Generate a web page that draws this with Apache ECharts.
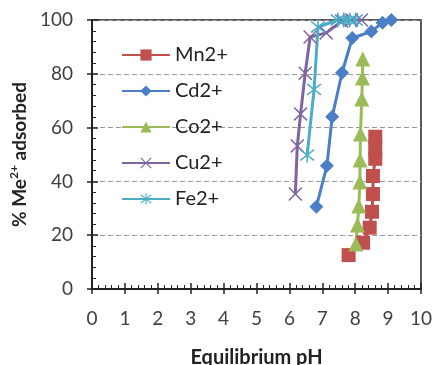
<!DOCTYPE html>
<html>
<head>
<meta charset="utf-8">
<script src="https://cdn.jsdelivr.net/npm/echarts@6/dist/echarts.min.js"></script>
<style>
  html, body { margin: 0; padding: 0; background: #fff; }
  #chart { width: 435px; height: 365px; }
</style>
</head>
<body>
<div id="chart"></div>
<script>
var seriesNames = ['Mn2+', 'Cd2+', 'Co2+', 'Cu2+', 'Fe2+'];

var mnPH  = [7.80, 8.24, 8.44, 8.51, 8.54, 8.54, 8.61, 8.61, 8.61];
var mnAds = [12.6, 17.2, 22.8, 28.7, 35.3, 42.0, 48.4, 52.4, 56.6];

var cdPH  = [6.82, 7.14, 7.30, 7.60, 7.91, 8.49, 8.83, 9.10];
var cdAds = [30.6, 45.8, 64.0, 80.4, 93.3, 95.7, 99.0, 100];

var coPH  = [8.02, 8.07, 8.11, 8.14, 8.15, 8.16, 8.20, 8.22, 8.23];
var coAds = [16.7, 23.8, 30.9, 39.8, 48.0, 57.6, 70.6, 78.4, 85.5];

var cuPH  = [6.18, 6.24, 6.34, 6.48, 6.63, 7.12, 7.59, 7.89, 8.19];
var cuAds = [35.3, 53.2, 65.1, 80.2, 93.7, 95.2, 99.6, 100, 100];

var fePH  = [6.54, 6.75, 6.87, 7.47, 7.65, 7.83, 8.02];
var feAds = [49.8, 74.2, 97.4, 100, 100, 100, 100];

var colors = ['#C0504D', '#4A7EC6', '#9BBB59', '#8064A2', '#4BACC6'];

// X and asterisk markers as filled outlines
var crossPath = 'path://M1.5,0L10,8.5L18.5,0L20,1.5L11.5,10L20,18.5L18.5,20L10,11.5L1.5,20L0,18.5L8.5,10L0,1.5Z';
var starPath = 'path://M9,0H11V20H9Z M1.5,2L10,8.8L18.5,2L20,3.5L11.5,10L20,16.5L18.5,18L10,11.2L1.5,18L0,16.5L8.5,10L0,3.5Z';
var symbols = ['rect', 'diamond', 'triangle', crossPath, starPath];
var symbolSizes = [14, 14, 15, 14, 15];

function zip(xs, ys) {
  var out = [];
  for (var i = 0; i < xs.length; i++) out.push([xs[i], ys[i]]);
  return out;
}

var allData = [zip(mnPH, mnAds), zip(cdPH, cdAds), zip(coPH, coAds), zip(cuPH, cuAds), zip(fePH, feAds)];

var chart = echarts.init(document.getElementById('chart'));

var textColor = '#404040';
var axisColor = '#222';
var fontFam = 'Lato, "Open Sans", sans-serif';

var series = seriesNames.map(function (name, i) {
  return {
    name: name,
    type: 'line',
    xAxisIndex: 0,
    yAxisIndex: 0,
    data: allData[i],
    symbol: symbols[i],
    symbolSize: symbolSizes[i],
    showAllSymbol: true,
    lineStyle: { color: colors[i], width: 3 },
    itemStyle: { color: colors[i], borderWidth: 0 },
    emphasis: { disabled: true }
  };
});

var option = {
  animation: false,
  textStyle: { fontFamily: fontFam },
  grid: {
    left: 92,
    right: 14,
    top: 20,
    bottom: 76,
    outerBoundsMode: 'none',
    containLabel: false,
    show: true,
    borderColor: axisColor,
    borderWidth: 1.5,
    backgroundColor: 'transparent'
  },
  legend: {
    orient: 'vertical',
    left: 116,
    top: 40,
    itemWidth: 48,
    itemHeight: 14,
    itemGap: 16,
    textStyle: { fontSize: 20, color: '#222', fontFamily: fontFam },
    data: seriesNames
  },
  xAxis: [{
    type: 'value',
    min: 0,
    max: 10,
    interval: 1,
    name: 'Equilibrium pH',
    nameLocation: 'middle',
    nameGap: 59,
    nameTextStyle: { fontSize: 20, fontWeight: 'bold', color: '#222' },
    axisLine: { show: true, onZero: false, lineStyle: { color: axisColor, width: 2 } },
    axisTick: { show: true, inside: true, length: 6, lineStyle: { color: axisColor, width: 1.5 } },
    minorTick: { show: true, splitNumber: 5, length: 4, lineStyle: { color: axisColor, width: 1 } },
    axisLabel: { fontSize: 19, color: textColor, margin: 20 },
    splitLine: { show: false }
  }, {
    // outward half of the major ticks
    type: 'value',
    position: 'bottom',
    min: 0,
    max: 10,
    interval: 1,
    axisLine: { show: false },
    axisTick: { show: true, inside: false, length: 5, lineStyle: { color: axisColor, width: 1.5 } },
    axisLabel: { show: false },
    splitLine: { show: false }
  }],
  yAxis: [{
    type: 'value',
    min: 0,
    max: 100,
    interval: 20,
    name: '% Me{sup|2+} adsorbed',
    nameLocation: 'middle',
    nameGap: 60,
    nameTextStyle: {
      fontSize: 19,
      fontWeight: 'bold',
      color: '#222',
      rich: {
        sup: { fontSize: 12, fontWeight: 'bold', color: '#222', padding: [0, 0, 10, 0] }
      }
    },
    axisLine: { show: true, onZero: false, lineStyle: { color: axisColor, width: 2 } },
    axisTick: { show: true, inside: true, length: 6, lineStyle: { color: axisColor, width: 1.5 } },
    minorTick: { show: true, splitNumber: 5, length: 4, lineStyle: { color: axisColor, width: 1 } },
    axisLabel: { fontSize: 19, color: textColor, margin: 19 },
    splitLine: { show: true, lineStyle: { color: '#999', type: [5, 3], width: 1.2 } }
  }, {
    type: 'value',
    position: 'left',
    min: 0,
    max: 100,
    interval: 20,
    axisLine: { show: false },
    axisTick: { show: true, inside: false, length: 5, lineStyle: { color: axisColor, width: 1.5 } },
    axisLabel: { show: false },
    splitLine: { show: false }
  }],
  series: series
};

chart.setOption(option);
</script>
</body>
</html>
